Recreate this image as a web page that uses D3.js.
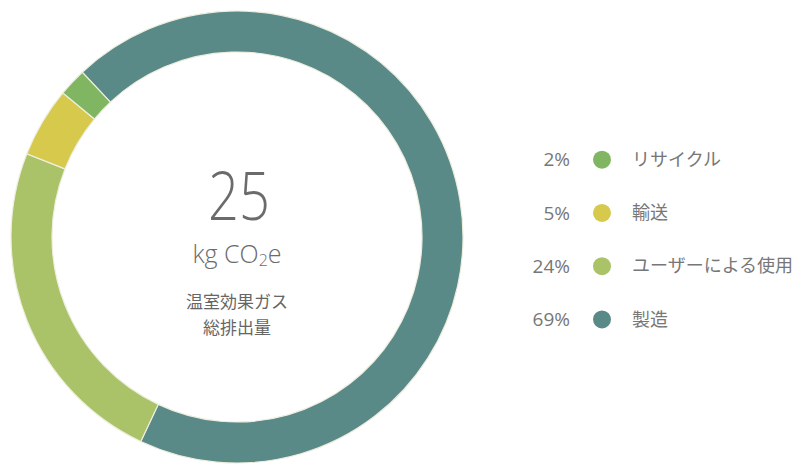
<!DOCTYPE html>
<html>
  <head>
    <meta charset="utf-8">
    <title>温室効果ガス総排出量</title>
    <script src="https://cdn.jsdelivr.net/npm/d3@7"></script>
<style type="text/css">
body{
  margin:0;
  background-color:#fff;
  font-family: 'Open Sans', 'Noto Sans CJK JP', sans-serif;
}
</style>
  </head>
  <body>
<svg id="chart" width="794" height="464"></svg>
<script>
// data, in the order the legend lists it
var labels = ["リサイクル", "輸送", "ユーザーによる使用", "製造"];
var shares = [2, 5, 24, 69];
var colors = ["#80b662", "#d6c94c", "#aac268", "#5a8a88"];
// order the ring is drawn clockwise
var ringOrder = [3, 2, 1, 0];
var total = "25";
var unit = "kg CO";

var svg = d3.select("#chart"),
    cx = 237, cy = 237,
    outerR = 226, innerR = 185;

var pie = d3.pie()
    .sort(null)
    .value(function(i) { return shares[i]; })
    .startAngle(-43.2 * Math.PI / 180)
    .endAngle((360 - 43.2) * Math.PI / 180);

var arc = d3.arc().innerRadius(innerR).outerRadius(outerR);

var g = svg.append("g").attr("transform", "translate(" + cx + "," + cy + ")");

g.selectAll("path")
  .data(pie(ringOrder))
  .enter().append("path")
    .attr("d", arc)
    .attr("fill", function(d) { return colors[d.data]; })
    .attr("stroke", "#eeeede")
    .attr("stroke-width", 1.2);

// center texts
g.append("text")
    .attr("text-anchor", "middle")
    .attr("x", 2)
    .attr("y", -17)
    .attr("font-size", 66)
    .attr("font-weight", 300)
    .attr("textLength", 62)
    .attr("lengthAdjust", "spacingAndGlyphs")
    .attr("fill", "#6b6b6b")
    .text(total);

var u = g.append("text")
    .attr("text-anchor", "middle")
    .attr("y", 26)
    .attr("font-size", 25)
    .attr("font-weight", 300)
    .attr("fill", "#6b6b6b")
    .text(unit);
u.append("tspan").attr("font-size", 16).attr("dy", 3).text("2");
u.append("tspan").attr("dy", -3).text("e");

g.selectAll("text.sub")
  .data(["温室効果ガス", "総排出量"])
  .enter().append("text")
    .attr("class", "sub")
    .attr("text-anchor", "middle")
    .attr("y", function(d, i) { return 71 + i * 26; })
    .attr("font-size", 17)
    .attr("font-family", "'Noto Sans CJK JP', sans-serif")
    .attr("fill", "#666")
    .text(function(d) { return d; });

// legend
var y = d3.scaleBand().domain(d3.range(labels.length)).range([133, 346]);

var rows = svg.selectAll("g.row")
  .data(d3.range(labels.length))
  .enter().append("g")
    .attr("class", "row")
    .attr("transform", function(i) { return "translate(0," + (y(i) + y.bandwidth() / 2) + ")"; });

rows.append("text")
    .attr("x", 570)
    .attr("dy", "0.35em")
    .attr("text-anchor", "end")
    .attr("font-size", 19)
    .attr("fill", "#777")
    .text(function(i) { return shares[i] + "%"; });

rows.append("circle")
    .attr("cx", 602)
    .attr("r", 9)
    .attr("fill", function(i) { return colors[i]; });

rows.append("text")
    .attr("x", 632)
    .attr("dy", "0.35em")
    .attr("font-size", 18)
    .attr("font-family", "'Noto Sans CJK JP', sans-serif")
    .attr("fill", "#777")
    .text(function(i) { return labels[i]; });
</script>
  </body>
</html>
